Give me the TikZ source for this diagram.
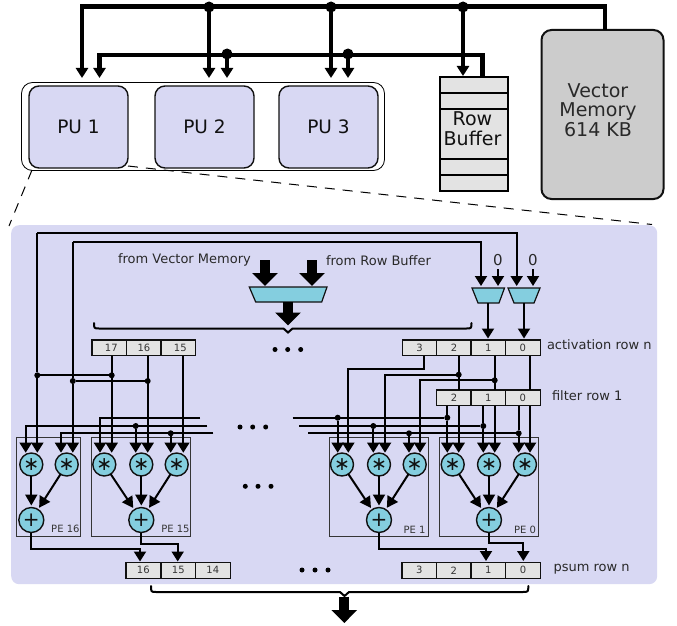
\documentclass[tikz,border=0pt]{standalone}
\usepackage{fontspec}
\setmainfont{DejaVu Sans}
\usetikzlibrary{arrows.meta}
\definecolor{panelblue}{HTML}{D8D8F3}
\definecolor{opteal}{HTML}{84CEDF}
\definecolor{cellgray}{HTML}{E3E3E3}
\definecolor{memgray}{HTML}{CCCCCC}
\definecolor{inkc}{HTML}{111111}
\newcommand{\fs}[1]{\fontsize{#1}{#1}\selectfont}
\tikzset{
  pubox/.style={draw=inkc,line width=1.4pt,fill=panelblue,rounded corners=10pt,inner sep=0pt,outer sep=0pt,font=\fs{18.5},text=inkc},
  cell/.style={draw=inkc,line width=1.2pt,fill=cellgray,inner sep=0pt,outer sep=0pt,minimum width=34.6pt,minimum height=15.6pt,anchor=north west,font=\fs{10},text=inkc!85},
  pebox/.style={draw=inkc!85,line width=1pt,inner sep=0pt,outer sep=0pt,anchor=north west},
  mulop/.style={circle,draw=inkc,line width=1.4pt,fill=opteal,minimum size=23pt,inner sep=0pt,outer sep=0pt,font=\fs{19},text=inkc},
  addop/.style={circle,draw=inkc,line width=1.4pt,fill=opteal,minimum size=25pt,inner sep=0pt,outer sep=0pt,font=\fs{20},text=inkc},
  muxshape/.style={draw=inkc,line width=1.2pt,fill=opteal},
  lbl/.style={inner sep=0pt,outer sep=0pt,font=\fs{13},text=inkc!90},
  pelbl/.style={inner sep=0pt,outer sep=0pt,font=\fs{10},text=inkc!85,anchor=east},
  jun/.style={circle,fill=black,inner sep=0pt,minimum size=6pt,outer sep=0pt},
  bigjun/.style={circle,fill=black,inner sep=0pt,minimum size=11pt,outer sep=0pt},
  wire/.style={draw=black,line width=2pt,line join=miter},
  warrow/.style={wire,-{Triangle[width=12pt,length=10pt]}},
  oparrow/.style={wire,shorten >=2pt,-{Triangle[width=12pt,length=11pt]}},
  bus/.style={draw=black,line width=4.8pt},
  busarrow/.style={bus,-{Triangle[width=12pt,length=10pt]}},
  bigarrow/.style={draw=black,line width=10pt,-{Triangle[width=25pt,length=13pt]}},
  zoomline/.style={draw=black,line width=1pt,dash pattern=on 10pt off 8pt},
  bracket/.style={draw=black,line width=2pt,line cap=round},
  ell/.style={circle,fill=black,inner sep=0pt,minimum size=5pt},
}
\begin{document}
\begin{tikzpicture}[x=1pt,y=-1pt]
\useasboundingbox (0,0) rectangle (677,626);
% panel
\node[fill=panelblue,rounded corners=8pt,minimum width=646pt,minimum height=359pt,inner sep=0pt,anchor=north west] (panel) at (11,225) {};
% top group
\node[draw=black,line width=.8pt,rounded corners=11pt,minimum width=363pt,minimum height=88pt,anchor=north west,inner sep=0pt,outer sep=0pt] (group) at (21.5,82.5) {};
\node[pubox,minimum width=99pt,minimum height=82pt,anchor=north west] (pu1) at (29,86) {PU 1};
\node[pubox,minimum width=99pt,minimum height=82pt,anchor=north west] (pu2) at (155,86) {PU 2};
\node[pubox,minimum width=99pt,minimum height=82pt,anchor=north west] (pu3) at (279,86) {PU 3};
% row buffer
\node[draw=black,line width=2pt,fill=cellgray,minimum width=68pt,minimum height=114pt,anchor=north west,inner sep=0pt,outer sep=0pt] (rb) at (440,77) {};
\foreach \yy in {93,108.5,159,174.5} \draw[line width=2pt] (rb.west |- 0,\yy) -- (rb.east |- 0,\yy);
\node[inner sep=0pt,font=\fs{19},text=inkc,align=center] (rbt) at (472.5,129) {Row\\[1pt]Buffer};
% vector memory
\node[draw=inkc,line width=2pt,fill=memgray,rounded corners=10pt,minimum width=122pt,minimum height=169pt,anchor=north west,inner sep=0pt,outer sep=0pt,font=\fs{19},align=center,text=inkc] (vm) at (541.5,30) {};
\node[inner sep=0pt,font=\fs{19},text=inkc!90,align=center] (vmt) at (598,110) {Vector\\[0.5pt]Memory\\[0.5pt]614 KB};
% top buses
\coordinate (b1l) at (82,6.5); \coordinate (b1r) at (605,6.5);
\coordinate (b2l) at (99.5,55); \coordinate (b2r) at (482.5,55);
\node[bigjun] (j1) at (209,7) {};
\node[bigjun] (j2) at (331,7) {};
\node[bigjun] (j3) at (463,7) {};
\node[bigjun] (j4) at (227,54) {};
\node[bigjun] (j5) at (348,54) {};
\draw[bus,line join=miter] (vm.north -| b1r) -- (b1r) -- (b1l) -- ++(0,62);
\draw[busarrow] (b1l) ++(0,40) -- (82,78);
\draw[bus] (j1.center) -- (209,70); \draw[busarrow] (209,60) -- (209,78);
\draw[bus] (j2.center) -- (331,70); \draw[busarrow] (331,60) -- (331,78);
\draw[bus] (j3.center) -- (463,70); \draw[busarrow] (463,60) -- (463,76);
\draw[bus,line width=4.4pt] (rb.north -| b2r) -- (b2r) -- (b2l) -- ++(0,15);
\draw[busarrow] (99.5,62) -- (99.5,78);
\draw[busarrow] (j4.center) -- (227,78);
\draw[busarrow] (j5.center) -- (348,78);
% zoom lines
\coordinate (zl) at (9,226); \coordinate (zr) at (652,224.5);
\draw[zoomline] (32,170) -- (zl);
\draw[zoomline] (128,166) -- (zr);
% inputs
\node[lbl,anchor=west] (fromvm) at (118,260) {from Vector Memory};
\node[lbl,anchor=west] (fromrb) at (326,261) {from Row Buffer};
\node[inner sep=0pt,font=\fs{15},text=inkc!90] (z1) at (498,260.5) {0};
\node[inner sep=0pt,font=\fs{15},text=inkc!90] (z2) at (533,260.5) {0};
% muxes
\draw[muxshape] (249.3,287) -- (327,287) -- (321.7,302) -- (255.7,302) -- cycle;
\coordinate (mm) at (288,302);
\draw[muxshape] (472,288) -- (504.5,288) -- (499,303) -- (478,303) -- cycle;
\draw[muxshape] (508,288) -- (540,288) -- (534,303) -- (514,303) -- cycle;
\coordinate (mxa) at (488,303); \coordinate (mxb) at (524,303);
\draw[bigarrow] (265,260) -- (265,286);
\draw[bigarrow] (312,260) -- (312,286);
\draw[bigarrow] (mm) -- (288,325.5);
% brackets
\draw[bracket] (94,323) .. controls (94,328) and (94,328.5) .. (99,328.5) -- (283.5,328.5) -- (288,332.5) -- (292.5,328.5) -- (466.5,328.5) .. controls (471.5,328.5) and (471.5,328) .. (471.5,323);
\draw[bracket] (151,586) .. controls (151,591.5) and (151,592) .. (156,592) -- (340,592) -- (344.5,596) -- (349,592) -- (523,592) .. controls (528.3,592) and (528.3,591.5) .. (528.3,586);
\draw[bigarrow] (344.3,596.5) -- (344.3,623);
% ellipses
\foreach \n/\xx/\yy in {a/240/427,b/252.7/427,c/265.7/427,d/245.3/486.3,e/258/486.3,f/271/486.3,g/275/349.5,h/287.7/349.5,i/300.7/349.5,j/302/570,k/315/570,l/328/570}
  \node[ell] (dot\n) at (\xx,\yy) {};
% activation / filter / psum cells
\foreach \n/\xx/\t in {a17/92/\hspace{4pt}17,a16/126.7/16,a15/161/\hspace{4pt}15,a3/402.3/3,a2/436.7/2,a1/471/1,a0/505.5/0}
  \node[cell] (\n) at (\xx,340) {\t};
\foreach \n/\xx/\t in {f2/436.7/2,f1/471/1,f0/505.5/0}
  \node[cell] (\n) at (\xx,390) {\t};
\foreach \n/\xx/\t in {p16/126/16,p15/161/15,p14/195.5/14,q3/402/3,q2/436.5/2,q1/471/1,q0/505.7/0}
  \node[cell] (\n) at (\xx,562.5) {\t};
\node[lbl,anchor=west] (actl) at (547,345) {activation row n};
\node[lbl,anchor=west] (fill) at (552,396) {filter row 1};
\node[lbl,anchor=west] (psl) at (553.5,569.5) {psum row n};
% PE boxes
\node[pebox,minimum width=64pt,minimum height=98.3pt] (pe16) at (16.7,437.7) {};
\node[pebox,minimum width=99.4pt,minimum height=98.3pt] (pe15) at (91.3,437.7) {};
\node[pebox,minimum width=99.4pt,minimum height=98.3pt] (pe1) at (329.3,437.7) {};
\node[pebox,minimum width=99.4pt,minimum height=98.3pt] (pe0) at (439.3,437.7) {};
\node[pelbl] (l16) at (79.5,529) {PE 16};
\node[pelbl] (l15) at (189.5,529) {PE 15};
\node[pelbl] (l1) at (425.5,530) {PE 1};
\node[pelbl] (l0) at (536,530) {PE 0};
% operators
\foreach \n/\xx in {ma/31.3,mb/66.7,mc/104.3,md/141.3,me/176.7,mf/342,mg/379,mh/414.7,mi/452.7,mj/489,mk/525}
  \node[mulop] (\n) at (\xx,464.5) {∗};
\foreach \n/\xx in {sa/31.3,sb/141.3,sc/379,sd/489}
  \node[addop] (\n) at (\xx,520) {+};
% mult to adder
\draw[oparrow] (ma) -- (sa);
\draw[oparrow] (mb) -- (sa);
\draw[oparrow] (mc) -- (sb);
\draw[oparrow] (md) -- (sb);
\draw[oparrow] (me) -- (sb);
\draw[oparrow] (mf) -- (sc);
\draw[oparrow] (mg) -- (sc);
\draw[oparrow] (mh) -- (sc);
\draw[oparrow] (mi) -- (sd);
\draw[oparrow] (mj) -- (sd);
\draw[oparrow] (mk) -- (sd);
% adder to psum
\draw[warrow] (sa) |- (140,549) -- (140,561.5);
\draw[warrow] (sb) |- (177.7,544.3) -- (177.7,561.5);
\draw[warrow] (sc) |- (486,548.7) -- (486,561);
\draw[warrow] (sd) |- (523.3,542.7) -- (523.3,561);
% top feeds
\coordinate (ta) at (37.3,232.5); \coordinate (tb) at (72.8,242);
\draw[warrow] (ta) -- (516.7,232.5) -- (516.7,286);
\draw[warrow] (tb) -- (481,242) -- (481,286);
\draw[warrow] (z1) ++(0,8.5) -- (498,286);
\draw[warrow] (z2) ++(0,8.5) -- (533,286);
\draw[warrow] (mxa) -- (488,338.5);
\draw[warrow] (mxb) -- (524,338.5);
\coordinate (tip) at (0,452.7);
% left junctions
\node[jun] (n17) at (111.7,375.3) {};
\node[jun] (n16) at (147.7,381) {};
\node[jun] (nta) at (37.3,375.3) {};
\node[jun] (ntb) at (72.8,381) {};
\draw[wire] (nta) -- (n17);
\draw[wire] (ntb) -- (n16);
\draw[wire] (ta) -- (nta);
\draw[wire] (tb) -- (ntb);
\draw[warrow] (nta) -- (nta |- tip);
\draw[warrow] (ntb) -- (ntb |- tip);
\draw[warrow] (n17 |- a17.south) -- (n17 |- tip);
\draw[warrow] (n16 |- a16.south) -- (n16 |- tip);
\draw[warrow] (183.3,355.5) -- (183.3,452.7);
% left buses
\coordinate (lb1) at (200,417.5);
\coordinate (lb2) at (207.3,426);
\coordinate (lb3) at (213.3,433.3);
\draw[warrow] (lb1) -- (100,417.5) -- (100,452.7);
\draw[warrow] (lb2) -- (25.7,426) -- (25.7,452.7);
\draw[warrow] (lb3) -- (61,433.3) -- (61,452.7);
\node[jun] (ln1) at (135.7,426) {};
\node[jun] (ln2) at (170.7,433.3) {};
\draw[warrow] (ln1) -- (ln1 |- tip);
\draw[warrow] (ln2) -- (ln2 |- tip);
% right activation wiring
\node[jun] (n2) at (458.7,374.7) {};
\node[jun] (n1) at (494.7,380.3) {};
\draw[warrow] (424.3,355.5) -- (424.3,369) -- (348.3,369) -- (348.3,452.7);
\draw[warrow] (n2) -- (385,374.7) -- (385,452.7);
\draw[warrow] (n1) -- (420,380.3) -- (420,452.7);
\draw[wire] (n2 |- a2.south) -- (n2 |- f2.north);
\draw[wire] (n1 |- a1.south) -- (n1 |- f1.north);
\draw[wire] (530,355.5) -- (530,390);
\draw[warrow] (458.7,405.5) -- (458.7,452.7);
\draw[warrow] (494.7,405.5) -- (494.7,452.7);
\draw[warrow] (530,405.5) -- (530,452.7);
% right buses
\node[jun] (rn1) at (447.3,417.7) {};
\node[jun] (rn2) at (483.3,426) {};
\node[jun] (rn3) at (518.7,433.3) {};
\node[jun] (rt1) at (337.7,417.7) {};
\node[jun] (rt2) at (373.3,426) {};
\node[jun] (rt3) at (409,433.3) {};
\coordinate (re1) at (292.7,417.7);
\coordinate (re2) at (299,426);
\coordinate (re3) at (308,433.3);
\draw[wire] (re1) -- (rn1);
\draw[wire] (re2) -- (rn2);
\draw[wire] (re3) -- (rn3);
\draw[warrow] (rt1) -- (rt1 |- tip);
\draw[warrow] (rt2) -- (rt2 |- tip);
\draw[warrow] (rt3) -- (rt3 |- tip);
\draw[wire] (447.3,405.5) -- (rn1);
\draw[wire] (483.3,405.5) -- (rn2);
\draw[wire] (518.7,405.5) -- (rn3);
\draw[warrow] (rn1) -- (rn1 |- tip);
\draw[warrow] (rn2) -- (rn2 |- tip);
\draw[warrow] (rn3) -- (rn3 |- tip);
\end{tikzpicture}
\end{document}
